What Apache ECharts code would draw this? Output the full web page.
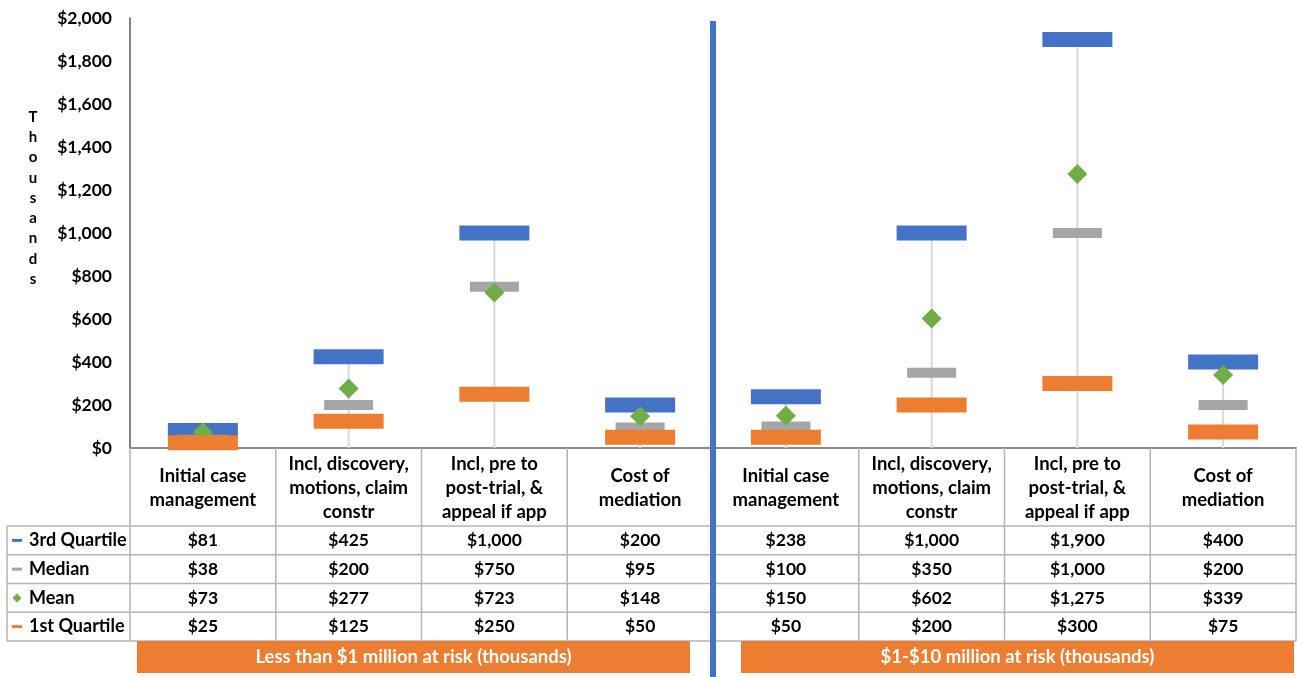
<!DOCTYPE html>
<html>
<head>
<meta charset="utf-8">
<script src="https://cdn.jsdelivr.net/npm/echarts@6/dist/echarts.min.js"></script>
<style>
  html, body { margin: 0; padding: 0; background: #fff; }
  #main { width: 1297px; height: 677px; }
</style>
</head>
<body>
<div id="main"></div>
<script>
// 数据
var categories = [
    'Initial case\nmanagement', 'Incl, discovery,\nmotions, claim\nconstr', 'Incl, pre to\npost-trial, &\nappeal if app', 'Cost of\nmediation',
    'Initial case\nmanagement', 'Incl, discovery,\nmotions, claim\nconstr', 'Incl, pre to\npost-trial, &\nappeal if app', 'Cost of\nmediation'
];
var q3 = [81, 425, 1000, 200, 238, 1000, 1900, 400];
var median = [38, 200, 750, 95, 100, 350, 1000, 200];
var mean = [73, 277, 723, 148, 150, 602, 1275, 339];
var q1 = [25, 125, 250, 50, 50, 200, 300, 75];
var groups = ['Less than $1 million at risk (thousands)', '$1-$10 million at risk (thousands)'];
var unitName = 'Thousands';
var yMax = 2000;
var yStep = 200;

var BLUE = '#4472C4', GRAY = '#A5A5A5', GREEN = '#70AD47', ORANGE = '#ED7D31';
var FONT = 'Lato, "Open Sans", sans-serif';

function money(v) {
    return '$' + v.toLocaleString('en-US');
}

var chart = echarts.init(document.getElementById('main'));

var option = {
    animation: false,
    grid: { left: 130, right: 1, top: 18, bottom: 229 },
    xAxis: {
        type: 'category',
        data: categories,
        axisLine: { lineStyle: { color: '#8c8c8c', width: 2 } },
        axisTick: { show: false },
        axisLabel: { show: false }
    },
    yAxis: {
        type: 'value',
        min: 0,
        max: yMax,
        interval: yStep,
        axisLine: { show: true, lineStyle: { color: '#595959', width: 1.5 } },
        axisTick: { show: false },
        splitLine: { show: false },
        axisLabel: {
            margin: 18,
            fontFamily: FONT,
            fontWeight: 'bold',
            fontSize: 17.5,
            color: '#000',
            formatter: money
        }
    },
    series: [
        {
            // 高低线
            type: 'bar',
            data: q3,
            barWidth: 2,
            silent: true,
            itemStyle: { color: '#d9d9d9' }
        },
        {
            name: '3rd Quartile',
            type: 'scatter',
            data: q3,
            symbol: 'rect',
            symbolSize: [70, 15],
            itemStyle: { color: BLUE, opacity: 1 }
        },
        {
            name: 'Median',
            type: 'scatter',
            data: median,
            symbol: 'rect',
            symbolSize: [49, 10],
            itemStyle: { color: GRAY, opacity: 1 }
        },
        {
            name: 'Mean',
            type: 'scatter',
            data: mean,
            symbol: 'diamond',
            symbolSize: 20,
            itemStyle: { color: GREEN, opacity: 1 }
        },
        {
            name: '1st Quartile',
            type: 'scatter',
            data: q1,
            symbol: 'rect',
            symbolSize: [70, 15],
            itemStyle: { color: ORANGE, opacity: 1 }
        }
    ]
};
chart.setOption(option);

// 数据表
var rows = [
    { name: '3rd Quartile', data: q3, color: BLUE, key: 'line' },
    { name: 'Median', data: median, color: GRAY, key: 'line' },
    { name: 'Mean', data: mean, color: GREEN, key: 'diamond' },
    { name: '1st Quartile', data: q1, color: ORANGE, key: 'line' }
];

var axisY = chart.convertToPixel({ yAxisIndex: 0 }, 0);
var centers = categories.map(function (c, i) {
    return chart.convertToPixel({ xAxisIndex: 0 }, i);
});
var half = (centers[1] - centers[0]) / 2;
var bounds = [centers[0] - half];
centers.forEach(function (c) { bounds.push(c + half); });

var headTop = axisY;
var headBottom = 526;
var rowH = 28.75;
var tableBottom = headBottom + rowH * rows.length;
var legendLeft = 7;
var lineColor = '#b4b4b4';
var g = [];

function hline(x1, x2, y) {
    g.push({ type: 'line', silent: true, z: 1, shape: { x1: x1, y1: y, x2: x2, y2: y }, style: { stroke: lineColor, lineWidth: 1.5 } });
}
function vline(x, y1, y2) {
    g.push({ type: 'line', silent: true, z: 1, shape: { x1: x, y1: y1, x2: x, y2: y2 }, style: { stroke: lineColor, lineWidth: 1.5 } });
}
function text(str, x, y, opts) {
    opts = opts || {};
    g.push({
        type: 'text', silent: true, z: 10, x: x, y: y,
        style: {
            text: str,
            fontFamily: FONT,
            fontWeight: 'bold',
            fontSize: opts.size || 17.5,
            lineHeight: opts.lineHeight || 24,
            fill: opts.fill || '#000',
            align: opts.align || 'center',
            verticalAlign: 'middle'
        }
    });
}

// 纵轴单位 (竖排)
text(unitName.split('').join('\n'), 33, 198, { size: 15, lineHeight: 20.3 });

// 网格线
for (var r = 0; r <= rows.length; r++) {
    hline(legendLeft, bounds[bounds.length - 1], headBottom + r * rowH);
}
bounds.forEach(function (b) { vline(b, headTop, tableBottom); });
vline(legendLeft, headBottom, tableBottom);

// 表头
categories.forEach(function (c, i) {
    text(c, centers[i], (headTop + headBottom) / 2 + 1, { size: 18.5 });
});

// 数值行
rows.forEach(function (row, r) {
    var cy = headBottom + rowH * r + rowH / 2;
    if (row.key === 'line') {
        g.push({ type: 'rect', silent: true, z: 3, shape: { x: 12, y: cy - 1.5, width: 10, height: 3 }, style: { fill: row.color } });
    } else {
        g.push({ type: 'polygon', silent: true, z: 3, shape: { points: [[17, cy - 4.5], [21.5, cy], [17, cy + 4.5], [12.5, cy]] }, style: { fill: row.color } });
    }
    text(row.name, 29, cy, { align: 'left', size: 18 });
    row.data.forEach(function (v, i) {
        text(money(v), centers[i], cy);
    });
});

// 分隔线
var mid = bounds[4];
g.push({ type: 'rect', silent: true, z: 5, shape: { x: mid - 3, y: 21, width: 6, height: 656 }, style: { fill: BLUE } });

// 底部标签
var banners = [
    [bounds[0] + 7, mid - 23],
    [mid + 28, bounds[8] - 2]
];
banners.forEach(function (b, k) {
    g.push({ type: 'rect', silent: true, z: 4, shape: { x: b[0], y: 641, width: b[1] - b[0], height: 32 }, style: { fill: ORANGE } });
    text(groups[k], (b[0] + b[1]) / 2, 657, { size: 18.5, fill: '#fff' });
});

chart.setOption({ graphic: { elements: g } });
</script>
</body>
</html>
